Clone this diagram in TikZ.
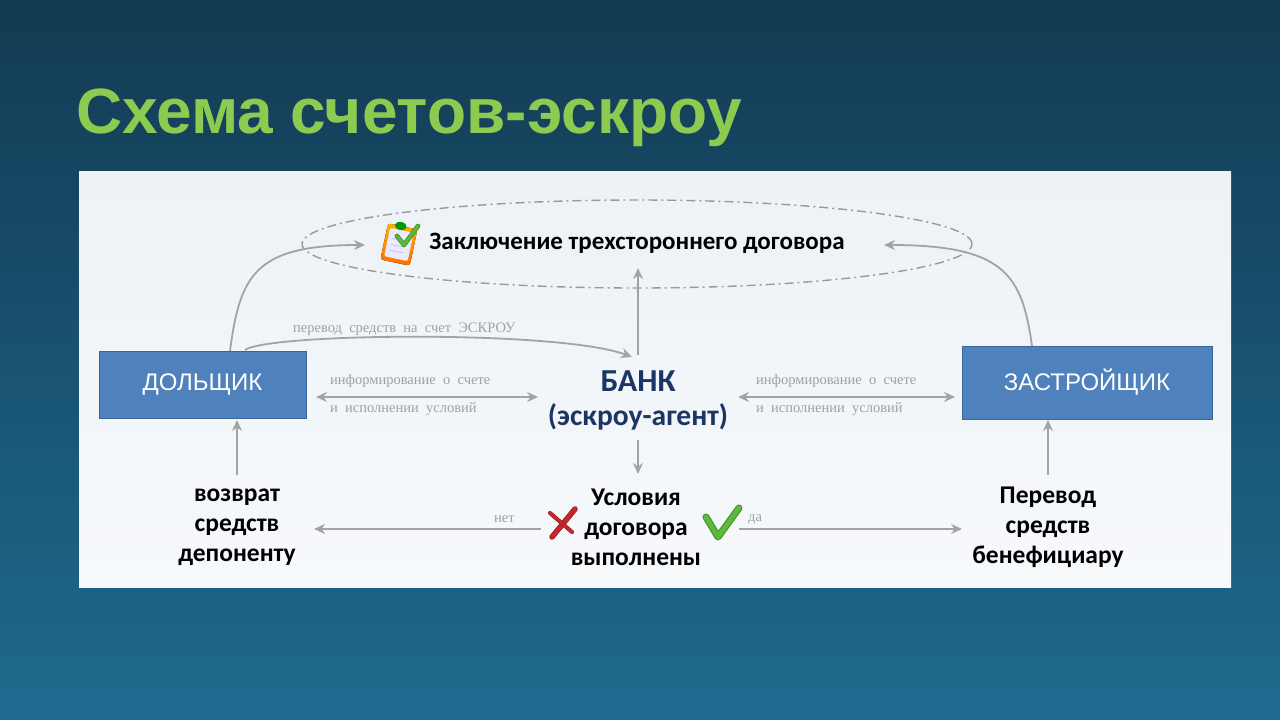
\documentclass[tikz,border=0pt]{standalone}
\usepackage{fontspec}
\setmainfont{Carlito}
\newfontfamily\arialf{Liberation Sans}
\newfontfamily\serf{Liberation Serif}
\usetikzlibrary{arrows.meta,shapes.geometric}
\definecolor{bgtop}{HTML}{133A52}
\definecolor{bgbot}{HTML}{1E6B8F}
\definecolor{titlegreen}{HTML}{8DCB50}
\definecolor{boxblue}{HTML}{4F81BD}
\definecolor{boxedge}{HTML}{3A6596}
\definecolor{arrgray}{HTML}{A3A3A3}
\definecolor{lblgray}{HTML}{A0A0A0}
\definecolor{navy}{HTML}{1B3564}
\definecolor{panelA}{HTML}{EDF2F7}
\definecolor{panelB}{HTML}{F7F9FB}
\definecolor{xred}{HTML}{C8262C}
\definecolor{chk}{HTML}{5DB83C}
\definecolor{chkdark}{HTML}{3E8E2A}
\begin{document}
\begin{tikzpicture}[x=1pt,y=-1pt,
  conn/.style={draw=arrgray,line width=1.8pt,-{Stealth[length=11pt,width=10pt]}},
  dconn/.style={draw=arrgray,line width=1.8pt,{Stealth[length=11pt,width=10pt]}-{Stealth[length=11pt,width=10pt]}},
  partybox/.style={draw=boxedge,line width=0.8pt,fill=boxblue,text=white,font=\arialf\fontsize{24}{28}\selectfont,inner sep=0pt},
  smalllbl/.style={text=lblgray,font=\serf\fontsize{14.5}{16}\selectfont,inner sep=0pt,anchor=west},
  bigbold/.style={font=\bfseries\fontsize{25.5}{30}\selectfont,align=center,inner sep=0pt,text=black},
]
\useasboundingbox (0,0) rectangle (1280,720);
\shade[top color=bgtop,bottom color=bgbot] (0,0) rectangle (1280,720);
\shade[top color=panelA,bottom color=panelB] (79,171) rectangle (1231,587);

% title
\node[anchor=base west,inner sep=0pt,text=titlegreen,font=\arialf\bfseries\fontsize{64}{70}\selectfont] (title) at (76,133) {Схема счетов-эскроу};

% ellipse
\node[ellipse,draw=gray!80,line width=1.4pt,dash pattern=on 9pt off 4pt on 2pt off 4pt,minimum width=670pt,minimum height=88pt] (ell) at (637,244) {};
\node[font=\bfseries\fontsize{25}{28}\selectfont,inner sep=0pt] (contract) at (637,243) {Заключение трехстороннего договора};

% clipboard icon
\begin{scope}[shift={(399,244)},rotate=-12]
  \fill[rounded corners=3pt,top color=orange!60!yellow,bottom color=orange!85!red] (-15,-18) rectangle (15,19);
  \fill[rounded corners=2pt,fill=blue!8] (-12,-14) rectangle (12,15);
  \draw[blue!25,line width=0.8pt] (-8,-4) -- (6,-4) (-8,2) -- (6,2) (-8,8) -- (6,8);
  \fill[green!60!black] (-2,-18) ellipse (6pt and 4pt);
\end{scope}
\draw[chkdark,line width=4.6pt,line cap=round,line join=round] (397,236) -- (404,245) -- (418,226);
\draw[chk,line width=3pt,line cap=round,line join=round] (397,236) -- (404,245) -- (418,226);

% parties
\node[partybox,minimum width=207pt,minimum height=67pt] (dol) at (202.5,384.5) {ДОЛЬЩИК};
\node[partybox,minimum width=250pt,minimum height=73pt] (zas) at (1087,382.5) {ЗАСТРОЙЩИК};

% bank
\node[font=\bfseries\fontsize{32}{36}\selectfont,text=navy,inner sep=0pt] (bank) at (638,381) {БАНК};
\node[font=\bfseries\fontsize{29.5}{36}\selectfont,text=navy,inner sep=0pt] (bank2) at (638,417) {(эскроу-агент)};

% bottom texts
\node[bigbold] (ret) at (237,527) {возврат\\средств\\депоненту};
\node[bigbold] (cond) at (636,527) {Условия\\договора\\выполнены};
\node[bigbold] (pay) at (1048,527) {Перевод\\средств\\бенефициару};

% coordinates
\coordinate (dolA) at (230,351);
\coordinate (dolB) at (245,350);
\coordinate (ellL) at (365,245);
\coordinate (ellR) at (884,245);
\coordinate (zasA) at (1032,346);
\coordinate (bankTop) at (638,355);
\coordinate (ellB) at (638,268);
\coordinate (bankIn) at (632,357);
\coordinate (bankBot) at (638,440);
\coordinate (condTop) at (638,474);
\coordinate (dolBot) at (237,420);
\coordinate (retTop) at (237,475);
\coordinate (zasBot) at (1048,420);
\coordinate (payTop) at (1048,475);
\coordinate (nL) at (314,529);
\coordinate (nR) at (541,529);
\coordinate (dL) at (739,529);
\coordinate (dR) at (962,529);
\coordinate (iL1) at (316,397);
\coordinate (iR1) at (538,397);
\coordinate (iL2) at (738,397);
\coordinate (iR2) at (955,397);

% connectors
\draw[conn] (dolA) .. controls (240,275) and (255,245) .. (ellL);
\draw[conn] (zasA) .. controls (1022,275) and (1005,245) .. (ellR);
\draw[conn] (bankTop) -- (ellB);
\draw[conn] (dolB) .. controls (268,333) and (560,330) .. (bankIn);
\draw[dconn] (iL1) -- (iR1);
\draw[dconn] (iL2) -- (iR2);
\draw[conn] (bankBot) -- (condTop);
\draw[conn] (retTop) -- (dolBot);
\draw[conn] (payTop) -- (zasBot);
\draw[conn] (nR) -- (nL);
\draw[conn] (dL) -- (dR);

% small labels
\node[smalllbl] (l1) at (293,329) {перевод\ \ средств\ \ на\ \ счет\ \ ЭСКРОУ};
\node[smalllbl] (l2) at (330,381) {информирование\ \ о\ \ счете};
\node[smalllbl] (l3) at (330,409) {и\ \ исполнении\ \ условий};
\node[smalllbl] (l4) at (756,381) {информирование\ \ о\ \ счете};
\node[smalllbl] (l5) at (756,409) {и\ \ исполнении\ \ условий};
\node[smalllbl] (l6) at (494,519) {нет};
\node[smalllbl] (l7) at (748,519) {да};

% red X
\draw[xred!70!black,line width=5.5pt,line cap=round] (575,509) -- (552,537);
\draw[xred,line width=4pt,line cap=round] (575,509) -- (552,537);
\draw[xred!70!black,line width=4pt,line cap=round] (550,513) -- (572,532);
\draw[xred,line width=2.8pt,line cap=round] (550,513) -- (572,532);

% green check
\draw[chkdark,line width=7pt,line cap=round,line join=round] (706,517) -- (718,537) -- (739,508);
\draw[chk,line width=5pt,line cap=round,line join=round] (706,517) -- (718,537) -- (739,508);
\end{tikzpicture}
\end{document}
